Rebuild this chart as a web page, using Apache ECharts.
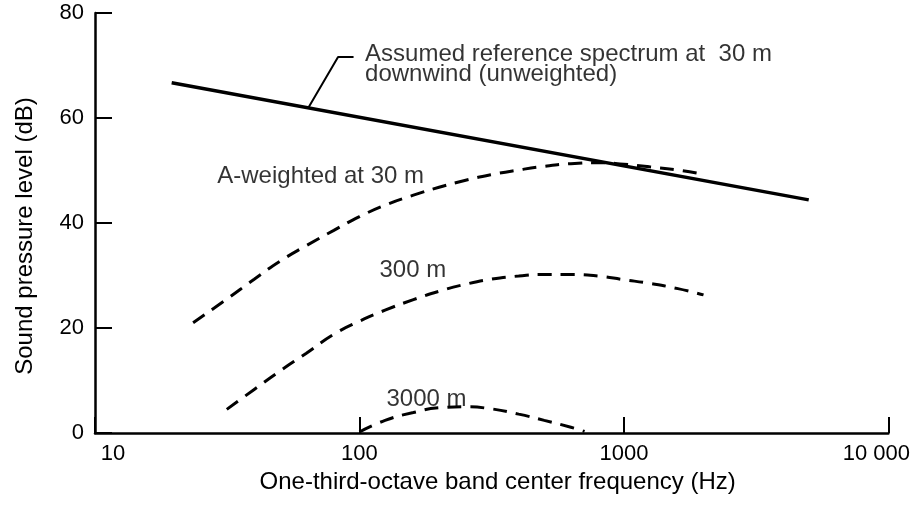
<!DOCTYPE html>
<html>
<head>
<meta charset="utf-8">
<script src="https://cdn.jsdelivr.net/npm/echarts@6/dist/echarts.min.js"></script>
<style>
html,body{margin:0;padding:0;background:#fff;}
#chart{width:913px;height:505px;}
</style>
</head>
<body>
<div id="chart"></div>
<script>
// Axis ticks
const xTicks = [10, 100, 1000, 10000];
const yTicks = [0, 20, 40, 60, 80];

// Assumed reference spectrum at 30 m (unweighted) - straight line in log-frequency
const refFreq = [19.5, 5000];
const refLevel = [66.7, 44.4];

// A-weighted at 30 m
const aw30Freq = [23.5, 31.5, 40, 50, 63, 80, 100, 125, 160, 200, 250, 315, 400, 500, 630, 800, 1000, 1250, 1600, 2000];
const aw30Level = [21, 25.5, 29.3, 32.7, 35.7, 38.6, 41.2, 43.4, 45.3, 46.8, 48.1, 49.2, 50.1, 50.8, 51.3, 51.5, 51.2, 50.7, 50.1, 49.3];

// 300 m
const aw300Freq = [31.5, 40, 50, 63, 80, 100, 125, 160, 200, 250, 315, 400, 500, 630, 800, 1000, 1250, 1600, 2000];
const aw300Level = [4.5, 8.3, 11.8, 15.2, 18.8, 21.3, 23.4, 25.4, 27.0, 28.3, 29.3, 29.9, 30.2, 30.2, 29.9, 29.2, 28.5, 27.5, 26.3];

// 3000 m
const aw3000Freq = [100, 125, 160, 200, 250, 315, 400, 500, 630, 710];
const aw3000Level = [0.2, 2.4, 3.9, 4.8, 5.0, 4.6, 3.6, 2.4, 1.1, 0.3];

// Leader line for the reference-spectrum label
const leaderFreq = [64, 83, 95];
const leaderLevel = [61.9, 71.6, 71.6];

// Text annotations: [frequency, level, text]
const annFreq = [105, 105, 29, 119, 126.5];
const annLevel = [72.2, 68.4, 48.8, 31.0, 6.5];
const annText = ['Assumed reference spectrum at  30 m', 'downwind (unweighted)', 'A-weighted at 30 m', '300 m', '3000 m'];

const FONT = '"Liberation Sans", Arial, Helvetica, sans-serif';
const zip = (a, b) => a.map((v, i) => [v, b[i]]);

const chart = echarts.init(document.getElementById('chart'), null, {renderer: 'canvas'});

const dashed = {type: [14, 9], width: 3, color: '#000'};

chart.setOption({
  animation: false,
  backgroundColor: '#fff',
  grid: {left: 95, right: 23, top: 13, bottom: 72, containLabel: false},
  xAxis: {
    type: 'log',
    logBase: 10,
    min: xTicks[0],
    max: xTicks[xTicks.length - 1],
    name: 'One-third-octave band center frequency (Hz)',
    nameLocation: 'middle',
    nameGap: 33,
    nameTextStyle: {fontFamily: FONT, fontSize: 24, color: '#000', padding: [0, 0, 0, 12]},
    axisLine: {show: true, lineStyle: {color: '#000', width: 2.5}},
    axisTick: {show: true, inside: true, length: 16, lineStyle: {color: '#000', width: 2}},
    splitLine: {show: false},
    minorTick: {show: false},
    axisLabel: {
      show: true,
      showMinLabel: true,
      showMaxLabel: true,
      margin: 10,
      color: '#000',
      fontFamily: FONT,
      fontSize: 22,
      formatter: function (v) {
        if (v === xTicks[0]) return '{lo|' + v + '}';
        if (v === xTicks[xTicks.length - 1]) return '{hi|10 000}';
        return String(v);
      },
      rich: {
        lo: {fontFamily: FONT, fontSize: 22, color: '#000', padding: [0, 0, 0, 36]},
        hi: {fontFamily: FONT, fontSize: 22, color: '#000', padding: [0, 24, 0, 0]}
      }
    }
  },
  yAxis: {
    type: 'value',
    min: yTicks[0],
    max: yTicks[yTicks.length - 1],
    interval: 20,
    name: 'Sound pressure level (dB)',
    nameLocation: 'middle',
    nameGap: 58,
    nameTextStyle: {fontFamily: FONT, fontSize: 24, color: '#000', padding: [0, 26, 0, 0]},
    axisLine: {show: true, lineStyle: {color: '#000', width: 2.5}},
    axisTick: {show: true, inside: true, length: 17, lineStyle: {color: '#000', width: 2}},
    splitLine: {show: false},
    axisLabel: {color: '#000', fontFamily: FONT, fontSize: 22, margin: 11}
  },
  series: [
    {
      name: 'Reference', type: 'line', data: zip(refFreq, refLevel),
      showSymbol: false, lineStyle: {color: '#000', width: 3.5}
    },
    {
      name: 'Leader', type: 'line', data: zip(leaderFreq, leaderLevel),
      showSymbol: false, lineStyle: {color: '#000', width: 2}
    },
    {
      name: 'A30', type: 'line', smooth: true, data: zip(aw30Freq, aw30Level),
      showSymbol: false, lineStyle: dashed
    },
    {
      name: 'A300', type: 'line', smooth: true, data: zip(aw300Freq, aw300Level),
      showSymbol: false, lineStyle: dashed
    },
    {
      name: 'A3000', type: 'line', smooth: true, data: zip(aw3000Freq, aw3000Level),
      showSymbol: false, lineStyle: dashed
    },
    {
      name: 'Annotations', type: 'scatter', symbolSize: 0,
      data: annFreq.map((f, i) => ({value: [f, annLevel[i]], text: annText[i]})),
      label: {
        show: true, position: 'right', distance: 0,
        align: 'left', verticalAlign: 'middle',
        color: '#000', fontFamily: FONT, fontSize: 24,
        formatter: p => p.data.text
      },
      silent: true
    }
  ]
});
</script>
</body>
</html>
